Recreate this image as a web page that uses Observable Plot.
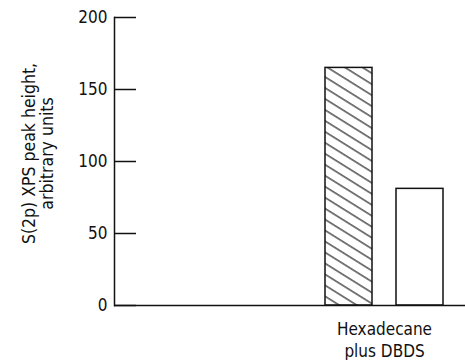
<!DOCTYPE html>
<html>
<head>
<meta charset="utf-8">
<script src="https://cdn.jsdelivr.net/npm/d3@7"></script>
<script src="https://cdn.jsdelivr.net/npm/@observablehq/plot@0.6"></script>
<style>
  html, body { margin: 0; padding: 0; background: #fff; }
  #chart svg { display: block; }
</style>
</head>
<body>
<div id="chart"></div>
<script>
// Bar slots along the x axis (only the last two carry non-zero values)
const slots = ["s1", "s2", "s3", "s4", "s5"];
const barSlots = ["s4", "s5"];
const barValues = [165, 81];
const barFills = ["url(#hatch)", "white"];
const groupLabel = "Hexadecane\nplus DBDS";
const groupSlot = "s4";
const yTicks = [0, 50, 100, 150, 200];
const yLabel = "S(2p) XPS peak height,\narbitrary units";

const bars = barSlots.map((s, i) => ({slot: s, value: barValues[i], fill: barFills[i]}));

const font = "'DejaVu Sans Condensed', 'DejaVu Sans', sans-serif";

const chart = Plot.plot({
  width: 465,
  height: 360,
  marginLeft: 114,
  marginRight: 0,
  marginTop: 17,
  marginBottom: 55,
  style: {fontFamily: font, fontSize: "17px", color: "#111", background: "white", fontStretch: "condensed"},
  x: {type: "band", domain: slots, range: [112, 443.5], paddingInner: 0.338, paddingOuter: 0, align: 0, axis: null},
  y: {domain: [0, 200], axis: null},
  marks: [
    Plot.barY(bars.filter(d => d.fill.startsWith("url")), {x: "slot", y: "value", fill: "url(#hatch)", stroke: "#111", strokeWidth: 1.5}),
    Plot.barY(bars.filter(d => !d.fill.startsWith("url")), {x: "slot", y: "value", fill: "white", stroke: "#111", strokeWidth: 1.5}),
    Plot.frame({anchor: "left", stroke: "#111", strokeWidth: 1.5}),
    Plot.ruleY([0], {stroke: "#111", strokeWidth: 1.5}),
    Plot.axisY({ticks: yTicks, tickSize: -22, tickFormat: () => "", label: null, strokeWidth: 1.5}),
    Plot.axisY({ticks: yTicks, tickSize: 0, tickPadding: 7, label: null, fontSize: 17}),
    Plot.text([yLabel], {frameAnchor: "left", text: d => d, rotate: -90, dx: -76, dy: -8, fontSize: 17.5, lineHeight: 1.03, textAnchor: "middle", lineAnchor: "middle"}),
    Plot.text([groupLabel], {x: () => groupSlot, y: () => 0, text: d => d, dx: 35.5, dy: 13.5, fontSize: 17, lineHeight: 1.3, lineAnchor: "top", textAnchor: "middle"})
  ]
});

// hatch pattern definition
const svg = d3.select(chart);
const defs = svg.insert("defs", ":first-child");
const pat = defs.append("pattern")
  .attr("id", "hatch")
  .attr("patternUnits", "userSpaceOnUse")
  .attr("width", 20)
  .attr("height", 9.3)
  .attr("patternTransform", "rotate(32)");
pat.append("rect").attr("width", 20).attr("height", 9.3).attr("fill", "white");
pat.append("line").attr("x1", 0).attr("x2", 20).attr("y1", 4.6).attr("y2", 4.6)
  .attr("stroke", "#111").attr("stroke-width", 1.1);

document.getElementById("chart").appendChild(chart);
</script>
</body>
</html>
